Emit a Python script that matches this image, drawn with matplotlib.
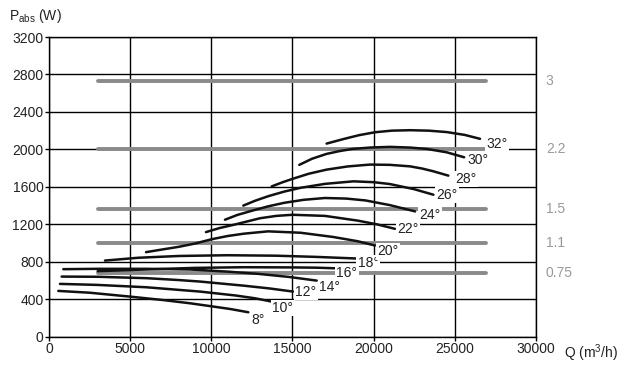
import matplotlib
matplotlib.use("Agg")
import matplotlib.pyplot as plt

plt.rcParams['font.family'] = ['Liberation Sans', 'DejaVu Sans']

# Motor power lines (W) and labels (kW)
motor_levels = [2725, 2000, 1360, 1000, 680]
motor_labels = ["3", "2.2", "1.5", "1.1", "0.75"]
motor_q_start = 3000
motor_q_end = 26900

# Blade angle curves: (Q m3/h, P W)
curve_labels = ["8°", "10°", "12°", "14°", "16°", "18°", "20°",
                "22°", "24°", "26°", "28°", "30°", "32°"]
q8 = [575, 2500, 5000, 7000, 8690, 10000, 11200, 12280]
p8 = [489, 470, 428, 392, 357, 325, 295, 261]
q10 = [680, 3000, 6000, 8000, 9300, 11500, 12700, 13720]
p10 = [564, 553, 528, 500, 482, 440, 410, 375]
q12 = [780, 3000, 6000, 8000, 9300, 12000, 13600, 15030]
p12 = [642, 640, 625, 605, 589, 545, 515, 482]
q14 = [883, 3000, 6000, 8690, 11000, 12900, 14800, 16490]
p14 = [721, 725, 725, 718, 695, 671, 638, 599]
q16 = [3000, 6000, 9000, 12000, 15000, 16500, 17720]
p16 = [700, 718, 735, 742, 740, 737, 730]
q18 = [3450, 5500, 8000, 11000, 14000, 16500, 18950]
p18 = [813, 843, 862, 870, 865, 852, 835]
q20 = [5980, 7000, 8000, 9000, 10000, 11000, 12000, 13500, 15500,
       17500, 19000, 20080]
p20 = [903, 932, 960, 995, 1040, 1075, 1100, 1125, 1110,
       1065, 1020, 974]
q22 = [9670, 10500, 11500, 13000, 14000, 15000, 17000, 19000, 20200, 21310]
p22 = [1117, 1160, 1200, 1265, 1290, 1302, 1290, 1240, 1200, 1152]
q24 = [10840, 11600, 12500, 13500, 14500, 15700, 17000, 18300, 19500,
       21000, 22550]
p24 = [1249, 1300, 1345, 1392, 1430, 1462, 1481, 1475, 1455, 1405, 1338]
q26 = [11970, 12700, 13500, 14500, 15500, 17000, 18750, 20000, 21000,
       22500, 23680]
p26 = [1400, 1452, 1500, 1550, 1590, 1632, 1659, 1650, 1630, 1575, 1516]
q28 = [13720, 14400, 15050, 16000, 17100, 18400, 19780, 21000, 22240,
       23000, 23680, 24600]
p28 = [1605, 1650, 1688, 1740, 1784, 1818, 1838, 1835, 1819, 1795,
       1766, 1720]
q30 = [15420, 16200, 17100, 17900, 18700, 19800, 21000, 22200, 23270,
       24500, 25570]
p30 = [1835, 1900, 1952, 1982, 2005, 2020, 2027, 2020, 2005, 1969, 1916]
q32 = [17100, 18130, 19100, 20080, 21100, 22240, 23400, 24500, 25600, 26550]
p32 = [2062, 2110, 2152, 2183, 2200, 2205, 2200, 2185, 2155, 2113]

curves_q = [q8, q10, q12, q14, q16, q18, q20, q22, q24, q26, q28, q30, q32]
curves_p = [p8, p10, p12, p14, p16, p18, p20, p22, p24, p26, p28, p30, p32]

label_q = [12875, 14415, 15830, 17310, 18340, 19670, 20900,
           22130, 23470, 24500, 25690, 26450, 27580]
label_p = [179, 306, 478, 535, 685, 786, 910,
           1152, 1302, 1516, 1684, 1884, 2059]

x_ticks = [0, 5000, 10000, 15000, 20000, 25000, 30000]
y_ticks = [0, 400, 800, 1200, 1600, 2000, 2400, 2800, 3200]

fig = plt.figure(figsize=(6.27, 3.65), dpi=100)
ax = fig.add_axes([0.0781, 0.0775, 0.7768, 0.8211])
ax.set_xlim(0, 30000)
ax.set_ylim(0, 3200)
ax.set_xticks(x_ticks)
ax.set_yticks(y_ticks)
ax.grid(True, color='black', linewidth=1.0, zorder=0)
for s in ax.spines.values():
    s.set_linewidth(1.0)
ax.tick_params(axis='both', direction='out', length=3, width=1.0,
               labelsize=10, pad=1, colors='black', labelcolor='#222222')

for lvl, lab in zip(motor_levels, motor_labels):
    ax.plot([motor_q_start, motor_q_end], [lvl, lvl], color='#8a8a8a',
            linewidth=2.8, solid_capstyle='round', zorder=2)
    ax.text(30000 + 600, lvl, lab, color='#999999', fontsize=10,
            va='center', ha='left', clip_on=False)

for q, p in zip(curves_q, curves_p):
    ax.plot(q, p, color='#111111', linewidth=1.8, solid_capstyle='round',
            solid_joinstyle='round', zorder=3)

for lab, lq, lp in zip(curve_labels, label_q, label_p):
    ax.text(lq, lp, lab, fontsize=10, color='#222222', ha='center',
            va='center', zorder=4,
            bbox=dict(boxstyle='square,pad=0.1', fc='white', ec='none'))

fig.text(0.015, 0.955, r"P$_{\mathregular{abs}}$ (W)", fontsize=10,
         color='#222222', ha='left', va='center')
ax.annotate("Q (m$^{\\mathregular{3}}$/h)", xy=(1.0, 0.0), xycoords='axes fraction',
            xytext=(20, -4), textcoords='offset points',
            fontsize=10, color='#222222', ha='left', va='top')

fig.savefig("out.png", dpi=100)
